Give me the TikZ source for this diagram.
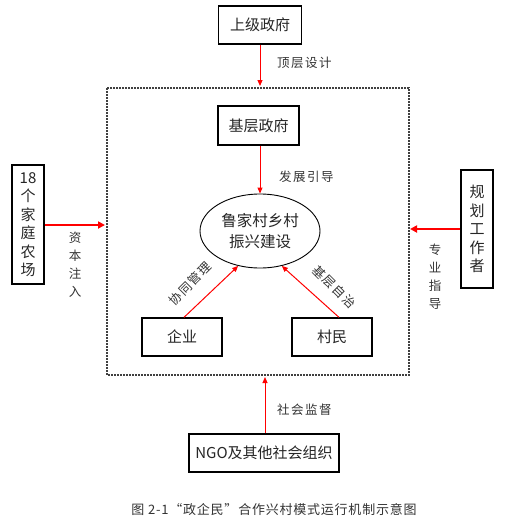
\documentclass[tikz,border=0pt]{standalone}
\usepackage{fontspec}
\setmainfont{Noto Sans CJK SC}
\newfontfamily\labfont[LetterSpace=12]{Noto Sans CJK SC}
\newfontfamily\capfont[LetterSpace=6]{Noto Sans CJK SC}
\usetikzlibrary{arrows.meta,shapes.geometric}
\tikzset{
  box/.style={draw=black,line width=1.3pt,inner sep=0pt,font=\fontsize{15}{15}\selectfont,text=black!85},
  vbox/.style={box,align=center,font=\fontsize{15}{18.5}\selectfont},
  redarr/.style={draw=red,line width=1pt,-{Triangle[length=6pt,width=5pt]}},
  thickarr/.style={draw=red,line width=2pt,-{Triangle[length=7pt,width=7pt]}},
  lab/.style={font=\labfont\fontsize{12.5}{12.5}\selectfont,text=black!80,inner sep=0pt},
  vlab/.style={lab,align=center,font=\fontsize{12.5}{18}\selectfont},
}
\begin{document}
\begin{tikzpicture}[x=1pt,y=-1pt]
\useasboundingbox (0,0) rectangle (513,522);
\fill[white] (0,0) rectangle (513,522);
% dashed frame
\draw[black!75,line width=1.1pt,dash pattern=on 2pt off 1pt] (107,88) rectangle (409,375);
\coordinate (ftop) at (260,86);
\coordinate (fbot) at (265,377);
\coordinate (fleft) at (105,225);
\coordinate (fright) at (410,229);
% nodes
\node[box,minimum width=83pt,minimum height=38pt] (sj) at (260,25) {上级政府};
\node[box,minimum width=81pt,minimum height=39pt] (jc) at (258.5,125.5) {基层政府};
\node[draw=black,line width=0.9pt,ellipse,minimum width=120pt,minimum height=74pt,inner sep=0pt,align=center,font=\fontsize{15.5}{21}\selectfont,text=black!85] (ctr) at (260,231) {鲁家村乡村\\振兴建设};
\node[box,minimum width=80pt,minimum height=38pt] (qy) at (182,337) {企业};
\node[box,minimum width=80pt,minimum height=38pt] (cm) at (332,337) {村民};
\node[vbox,minimum width=32pt,minimum height=119pt] (jt) at (28,224.5) {18\\个\\家\\庭\\农\\场};
\node[vbox,minimum width=32pt,minimum height=118pt] (gh) at (477,229) {规\\划\\工\\作\\者};
\node[box,minimum width=150pt,minimum height=38pt] (ngo) at (264,453) {NGO及其他社会组织};
% connectors
\draw[redarr] (sj.south -| ftop) -- (ftop);
\draw[redarr] (jc.south -| ctr.north) -- (ctr.north);
\draw[redarr] (qy.north) ++(2,0) coordinate (qs) (qs) -- (ctr.238);
\draw[redarr] (cm.north) ++(7,0) coordinate (cs) (cs) -- (ctr.302);
\draw[thickarr] (jt.east |- fleft) -- (fleft);
\draw[thickarr] (gh.west |- fright) -- (fright);
\draw[redarr] (ngo.north -| fbot) -- (fbot);
% labels
\node[lab,anchor=west] (l1) at (277,63) {顶层设计};
\node[lab,anchor=west] (l2) at (279,177) {发展引导};
\node[lab,rotate=45] (l3) at (190,284) {协同管理};
\node[lab,rotate=-45] (l4) at (334,287) {基层自治};
\node[vlab] (l5) at (75,265) {资\\本\\注\\入};
\node[vlab] (l6) at (435,277) {专\\业\\指\\导};
\node[lab,anchor=west] (l7) at (277,410) {社会监督};
\node[anchor=center,inner sep=0pt,text=black!80,font=\capfont\fontsize{13}{13}\selectfont] (cap) at (274,510) {图 2-1“政企民”合作兴村模式运行机制示意图};
\end{tikzpicture}
\end{document}
